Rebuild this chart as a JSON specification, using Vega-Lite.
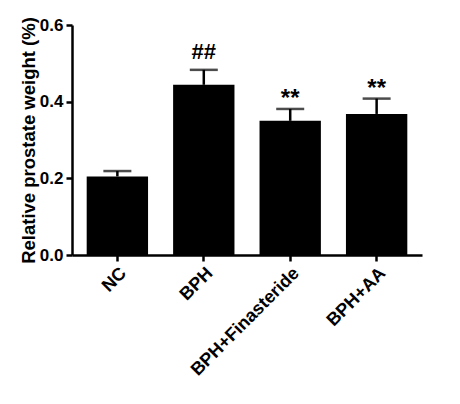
{
  "$schema": "https://vega.github.io/schema/vega-lite/v6.json",
  "autosize": {"type": "none"},
  "padding": {"left": 72, "top": 25, "right": 38, "bottom": 149},
  "width": 350,
  "height": 230,
  "background": "white",
  "config": {
    "view": {"stroke": null},
    "font": "Liberation Sans",
    "axis": {
      "domainColor": "black", "domainWidth": 2.5, "tickColor": "black", "tickWidth": 2.5, "tickSize": 6,
      "labelFont": "Liberation Sans", "labelFontWeight": "bold", "labelFontSize": 17, "labelColor": "black",
      "titleFont": "Liberation Sans", "titleFontWeight": "bold", "titleFontSize": 18.5, "titleColor": "black",
      "grid": false
    }
  },
  "data": {"values": [
    {"group": "NC", "value": 0.205, "upper": 0.219, "sig": ""},
    {"group": "BPH", "value": 0.444, "upper": 0.483, "sig": "##"},
    {"group": "BPH+Finasteride", "value": 0.350, "upper": 0.381, "sig": "**"},
    {"group": "BPH+AA", "value": 0.368, "upper": 0.408, "sig": "**"}
  ]},
  "encoding": {
    "x": {"field": "group", "type": "nominal", "sort": null,
      "scale": {"paddingInner": 0.29, "paddingOuter": 0.17},
      "axis": {"title": null, "labelAngle": -45, "labelPadding": 3, "labelLimit": 300, "labelFontSize": 18}}
  },
  "layer": [
    {"mark": {"type": "bar", "color": "black"},
     "encoding": {"y": {"field": "value", "type": "quantitative",
       "scale": {"domain": [0, 0.6], "nice": false},
       "axis": {"title": "Relative prostate weight (%)", "values": [0, 0.2, 0.4, 0.6], "format": ".1f", "labelPadding": 3, "titlePadding": 1}}}},
    {"mark": {"type": "rule", "color": "black", "strokeWidth": 2.5},
     "encoding": {"y": {"field": "value", "type": "quantitative"}, "y2": {"field": "upper"}}},
    {"mark": {"type": "tick", "color": "black", "thickness": 2.5, "size": 28},
     "encoding": {"y": {"field": "upper", "type": "quantitative"}}},
    {"transform": [{"filter": "datum.sig == '##'"}],
     "mark": {"type": "text", "fontSize": 22, "fontWeight": "bold", "baseline": "alphabetic", "dy": -11, "color": "black"},
     "encoding": {"y": {"field": "upper", "type": "quantitative"}, "text": {"field": "sig"}}},
    {"transform": [{"filter": "datum.sig == '**'"}],
     "mark": {"type": "text", "fontSize": 24, "fontWeight": "bold", "baseline": "alphabetic", "dy": -3, "color": "black"},
     "encoding": {"y": {"field": "upper", "type": "quantitative"}, "text": {"field": "sig"}}}
  ]
}
